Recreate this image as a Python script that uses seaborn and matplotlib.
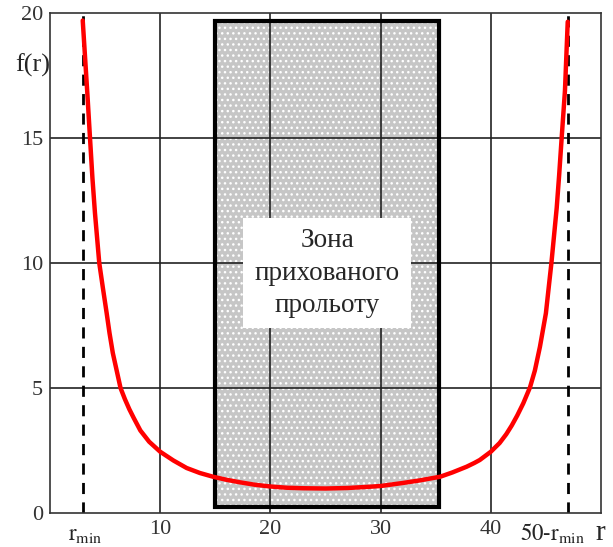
import matplotlib
matplotlib.use('Agg')
import matplotlib.pyplot as plt
import seaborn as sns
import pandas as pd
from matplotlib.patches import Rectangle

# values
r_left = [2.97, 3.2, 3.4, 3.63, 3.85, 4.08, 4.47, 4.8, 5.14, 5.4, 5.7, 6.0, 6.4, 6.8,
          7.2, 7.6, 8.2, 9.0, 10.0, 11.2, 12.4, 13.6, 14.8, 16.0, 17.2, 18.6, 20.0,
          21.5, 23.0, 25.0]
f_left = [19.7, 18.1, 16.7, 15.0, 13.4, 12.0, 10.0, 9.0, 8.0, 7.2, 6.4, 5.8, 5.0, 4.55,
          4.15, 3.8, 3.3, 2.85, 2.45, 2.1, 1.8, 1.6, 1.45, 1.33, 1.23, 1.13, 1.06,
          1.01, 0.99, 0.98]
r_right = [27.0, 29.0, 30.0, 32.0, 33.5, 35.4, 36.5, 37.8, 38.5, 39.0, 40.0, 40.8, 41.4,
           41.9, 42.4, 42.95, 43.56, 44.0, 44.46, 45.0, 45.25, 45.5, 45.98, 46.2,
           46.43, 46.73, 46.98]
f_right = [1.0, 1.05, 1.08, 1.2, 1.3, 1.45, 1.62, 1.85, 2.0, 2.12, 2.45, 2.8, 3.15,
           3.5, 3.9, 4.39, 5.03, 5.7, 6.65, 7.99, 9.0, 10.0, 12.2, 13.5,
           15.0, 16.9, 19.65]

r_min = 3.0
zone = (15.0, 35.3)      # hidden span zone along r
zone_f = (0.25, 19.7)
zone_text = 'Зона\nприхованого\nпрольоту'
yticks = [0, 5, 10, 15, 20]
xticks = [10, 20, 30, 40]

df = pd.DataFrame({'r': r_left + r_right, 'f': f_left + f_right})

sns.set_style('white')
plt.rcParams['font.family'] = ['Liberation Serif', 'DejaVu Serif']
plt.rcParams['mathtext.fontset'] = 'stix'
plt.rcParams['hatch.color'] = 'white'
plt.rcParams['hatch.linewidth'] = 1.0

fig = plt.figure(figsize=(6.13, 5.47), dpi=100)
ax = fig.add_axes([50 / 613, 34 / 547, 551 / 613, 500 / 547])

# shaded zone
ax.add_patch(Rectangle((zone[0], zone_f[0]), zone[1] - zone[0], zone_f[1] - zone_f[0],
                       facecolor='#c6c6c6', edgecolor='white', hatch='...', lw=0, zorder=0.5))
ax.add_patch(Rectangle((zone[0], zone_f[0]), zone[1] - zone[0], zone_f[1] - zone_f[0],
                       facecolor='none', edgecolor='black', lw=3, zorder=2))

# grid
for x in xticks:
    ax.axvline(x, color='#222222', lw=1.2, zorder=1)
for y in yticks[1:-1]:
    ax.axhline(y, color='#222222', lw=1.2, zorder=1)

# label box
ax.add_patch(Rectangle((17.5, 7.4), 15.3, 4.4, facecolor='white', edgecolor='none', zorder=3))
ax.text(25.15, 9.6, zone_text, ha='center', va='center', fontsize=19.5,
        linespacing=1.38, zorder=4)

# r_min limits
ax.plot([r_min, r_min], [0, 20], color='black', lw=2, ls=(0, (4, 3)), zorder=2.5)
ax.plot([50 - r_min, 50 - r_min], [0, 20], color='black', lw=2, ls=(0, (4, 3)), zorder=2.5)

sns.lineplot(data=df, x='r', y='f', color='red', lw=3.2, sort=True, ax=ax, zorder=5)

ax.set_xlim(0, 50)
ax.set_ylim(0, 20)
ax.set_xticks(xticks)
ax.set_yticks(yticks)
ax.tick_params(length=0, labelsize=16, labelcolor='#333333', pad=5)
ax.set_xlabel('')
ax.set_ylabel('')
for s in ax.spines.values():
    s.set_color('#333333')
    s.set_linewidth(1.2)
    s.set_visible(True)

ax.text(-1.6, 17.9, 'f(r)', ha='center', va='center', fontsize=19, clip_on=False)
ax.text(3.2, -0.85, r'$\mathrm{r}_{\mathrm{min}}$', ha='center', va='center',
        fontsize=16.5, clip_on=False)
ax.text(45.6, -0.8, r'$\mathrm{50\text{-}r}_{\mathrm{min}}$', ha='center', va='center',
        fontsize=16.5, clip_on=False)
ax.text(49.9, -0.8, 'r', ha='center', va='center', fontsize=21, clip_on=False)

fig.savefig('out.png', dpi=100)
